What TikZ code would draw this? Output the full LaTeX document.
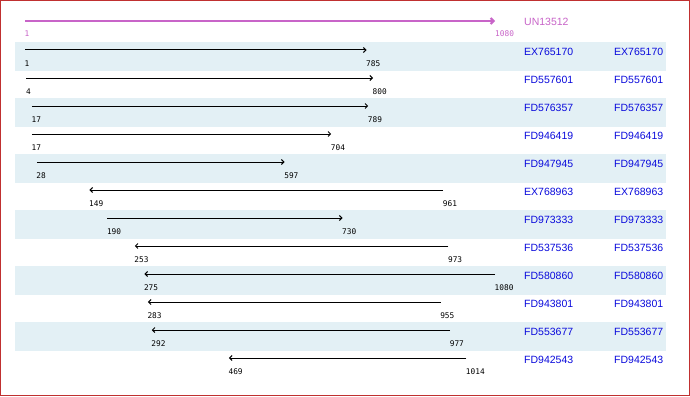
\documentclass[tikz,border=0pt]{standalone}
\usepackage{fontspec}
\setmainfont{Liberation Sans}
\newfontfamily\nummono{DejaVu Sans Mono}
\usetikzlibrary{arrows.meta}
\definecolor{frame}{RGB}{192,48,48}
\definecolor{stripe}{RGB}{227,240,245}
\definecolor{refpurple}{RGB}{200,100,200}
\definecolor{hitblue}{RGB}{10,10,220}
\tikzset{
  num/.style={font=\nummono\fontsize{7.8}{8}\selectfont, anchor=west, inner sep=0pt},
  hitname/.style={font=\fontsize{10.5}{10.5}\selectfont, text=hitblue, anchor=west, inner sep=0pt},
  hit/.style={line width=1pt, -{Straight Barb[length=2.5pt,width=5pt]}},
}
\begin{document}
\begin{tikzpicture}[x=1pt,y=-1pt]
  \useasboundingbox (0,0) rectangle (690,396);
  \fill [white] (0,0) rectangle (690,396);
  % stripes behind every other row
  \foreach \i in {1,3,...,11}
    \fill [stripe] (15,{42+28*(\i-1)}) rectangle (666,{71+28*(\i-1)});
  \draw [frame, line width=1.2pt] (0.6,0.6) rectangle (689.4,395.4);

  % query
  \coordinate (q1) at (25,21);
  \coordinate (q2) at (495,21);
  \draw [refpurple, line width=2pt, -{Straight Barb[length=3pt,width=6pt]}] (q1) -- (q2);
  \node [num, text=refpurple] (qa) at (24.5,34) {1};
  \node [num, text=refpurple] (qb) at (495,34) {1080};
  \node [hitname, text=refpurple] (qname) at (524,22) {UN13512};

  % hits: row/start/end/forward/name
  \foreach \i/\a/\b/\fw/\nm in {
      1/1/785/1/EX765170, 2/4/800/1/FD557601, 3/17/789/1/FD576357,
      4/17/704/1/FD946419, 5/28/597/1/FD947945, 6/149/961/0/EX768963,
      7/190/730/1/FD973333, 8/253/973/0/FD537536, 9/275/1080/0/FD580860,
      10/283/955/0/FD943801, 11/292/977/0/FD553677, 12/469/1014/0/FD942543} {
    \pgfmathsetmacro\ry{50+28*(\i-1)}
    \pgfmathsetmacro\xa{25+(\a-1)/1079*470}
    \pgfmathsetmacro\xb{25+(\b-1)/1079*470}
    \coordinate (lo\i) at (\xa,\ry);
    \coordinate (hi\i) at (\xb,\ry);
    \ifnum\fw=1 \draw [hit] (lo\i) -- (hi\i); \else \draw [hit] (hi\i) -- (lo\i); \fi
    \node [num] (na\i) at (\xa-0.5,\ry+14) {\a};
    \node [num] (nb\i) at (\xb-0.5,\ry+14) {\b};
    \node [hitname] (n\i) at (524,\ry+2) {\nm};
    \node [hitname] (m\i) at (614,\ry+2) {\nm};
  }
\end{tikzpicture}
\end{document}
